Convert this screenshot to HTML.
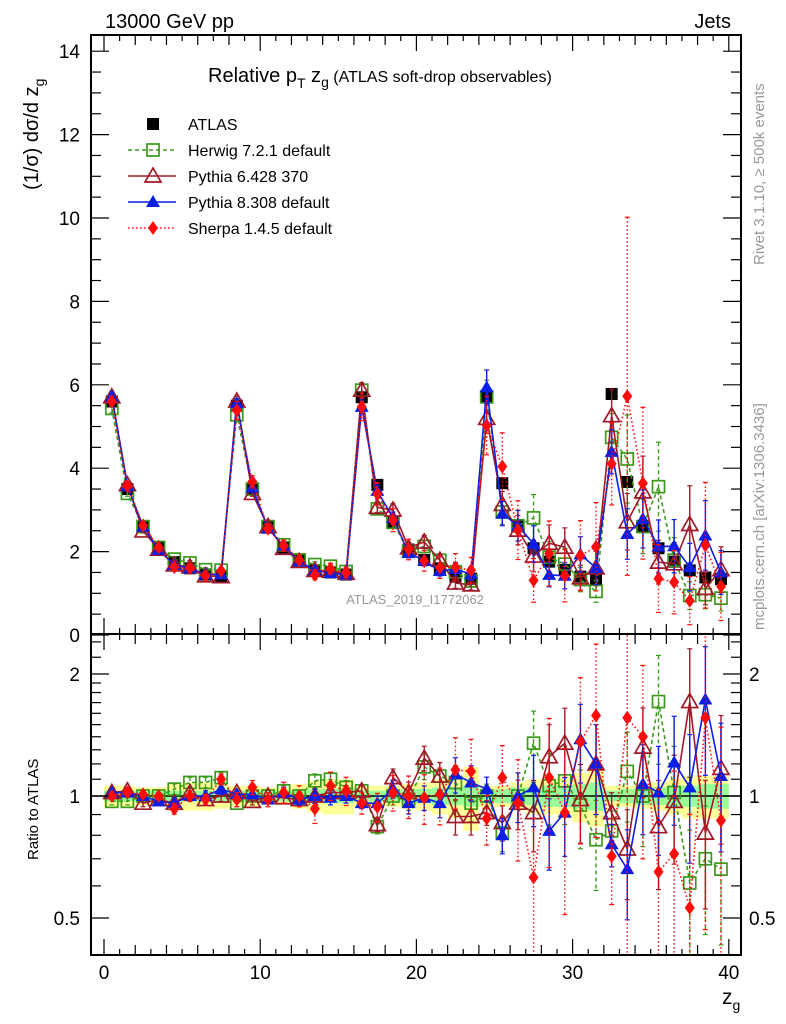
<!DOCTYPE html>
<html><head><meta charset="utf-8"><style>
html,body{margin:0;padding:0;background:#fff;}
svg{display:block;font-family:"Liberation Sans",sans-serif;}
</style></head><body>
<svg id="c" width="786" height="1024" viewBox="0 0 786 1024" xmlns="http://www.w3.org/2000/svg"></svg>
<script>
const binCenters=[0.5,1.5,2.5,3.5,4.5,5.5,6.5,7.5,8.5,9.5,10.5,11.5,12.5,13.5,14.5,15.5,16.5,17.5,18.5,19.5,20.5,21.5,22.5,23.5,24.5,25.5,26.5,27.5,28.5,29.5,30.5,31.5,32.5,33.5,34.5,35.5,36.5,37.5,38.5,39.5];
const atlas=[5.6,3.5,2.6,2.1,1.75,1.6,1.45,1.4,5.5,3.5,2.6,2.1,1.8,1.55,1.5,1.45,5.7,3.6,2.7,2.05,1.8,1.6,1.4,1.35,5.71,3.64,2.62,2.08,1.76,1.56,1.4,1.34,5.78,3.67,2.6,2.08,1.76,1.55,1.38,1.34];
const bandTot=[0.06,0.06,0.05,0.05,0.07,0.08,0.08,0.07,0.06,0.06,0.05,0.05,0.07,0.09,0.1,0.1,0.06,0.06,0.06,0.07,0.08,0.1,0.12,0.18,0.06,0.06,0.08,0.1,0.1,0.12,0.14,0.16,0.06,0.06,0.07,0.08,0.1,0.12,0.12,0.12];
const bandStat=[0.03,0.03,0.03,0.03,0.03,0.03,0.03,0.03,0.03,0.03,0.03,0.03,0.03,0.04,0.04,0.04,0.03,0.03,0.03,0.04,0.04,0.05,0.05,0.06,0.03,0.04,0.05,0.05,0.06,0.06,0.07,0.08,0.03,0.04,0.05,0.05,0.06,0.06,0.07,0.07];
const herwigRatio=[0.97,0.97,1.0,1.0,1.04,1.08,1.08,1.11,0.96,1.0,1.0,1.03,1.0,1.09,1.1,1.05,1.03,0.84,1.0,0.98,1.18,1.12,1.08,0.96,1.0,0.81,1.0,1.35,1.06,1.09,0.95,0.78,0.82,1.15,1.0,1.71,1.02,0.61,0.7,0.66];
const pythia6Ratio=[1.02,1.03,0.96,0.98,0.96,1.02,0.98,1.0,1.02,0.97,1.0,0.99,0.98,1.0,1.02,1.02,1.03,0.85,1.11,1.02,1.24,1.12,0.89,0.89,0.91,0.86,0.96,0.91,1.25,1.35,0.98,1.2,0.91,0.74,1.32,0.84,0.97,1.71,0.81,1.17];
const pythia8Ratio=[1.02,1.02,1.0,0.97,0.96,1.0,1.0,1.04,1.01,1.01,0.98,1.02,0.98,1.0,0.99,1.0,0.96,0.96,1.04,0.96,0.99,0.96,1.13,1.08,1.04,0.8,1.0,1.05,0.82,0.91,1.38,1.2,0.76,0.66,1.07,1.02,1.21,1.05,1.73,1.12];
const sherpaRatio=[1.0,1.02,1.01,1.0,0.93,1.0,0.98,1.1,0.98,1.05,0.98,1.02,1.0,0.93,1.06,1.03,0.96,0.94,1.02,1.0,0.99,1.01,1.16,1.15,0.88,1.11,0.96,0.63,1.11,0.91,1.36,1.58,0.71,1.56,1.4,0.65,0.72,0.53,1.56,0.87];
const modelErr=[0.02,0.02,0.02,0.02,0.03,0.03,0.03,0.03,0.02,0.02,0.02,0.03,0.03,0.04,0.04,0.04,0.03,0.04,0.05,0.06,0.07,0.08,0.1,0.1,0.07,0.1,0.14,0.2,0.2,0.22,0.22,0.25,0.12,0.25,0.25,0.3,0.3,0.35,0.35,0.35];
const sherpaErrScale=[1,1,1,1,1,1,1,1,2,2,2,2,2,2,2,2,2,2,2,2,2,2,2,2,2,2,2,2,2,2,2,2,2,3,2,2,2,2,2,2];
const mainTicks=[0,2,4,6,8,10,12,14];
const ratioTicks=[0.5,1,2];
const xTicks=[0,10,20,30,40];

const NS="http://www.w3.org/2000/svg";
const svg=document.getElementById('c');
const L=91,R=741,T=35,MB=634,RB=955;
const xs=v=>104+v*15.62;
const ym=v=>635-v*41.7;
const yr=v=>796-122*Math.log2(v);
function el(tag,attrs,parent){const e=document.createElementNS(NS,tag);for(const k in attrs)e.setAttribute(k,attrs[k]);(parent||svg).appendChild(e);return e;}
function txt(s,x,y,attrs,parent){const t=el('text',Object.assign({x:x,y:y},attrs),parent);t.textContent=s;return t;}

const defs=el('defs',{});
const cp1=el('clipPath',{id:'cm'},defs);el('rect',{x:L,y:T,width:R-L,height:MB-T},cp1);
const cp2=el('clipPath',{id:'cr'},defs);el('rect',{x:L,y:MB,width:R-L,height:RB-MB},cp2);

const gBand=el('g',{'clip-path':'url(#cr)'});


binCenters.forEach((c,i)=>{
  const r1=el('rect',{x:xs(c-0.5),width:15.62,y:yr(1+bandTot[i]),height:yr(1-bandTot[i])-yr(1+bandTot[i]),fill:'#ffff99'},gBand);
  
  
});
binCenters.forEach((c,i)=>{
  const r2=el('rect',{x:xs(c-0.5),width:15.62,y:yr(1+bandStat[i]),height:yr(1-bandStat[i])-yr(1+bandStat[i]),fill:'#99ff99'},gBand);
  
  
});
const l1=el('line',{x1:L,x2:R,y1:yr(1),y2:yr(1),stroke:'#000','stroke-width':1.5});



const models=[
 {name:'herwig',ratio:herwigRatio,color:'#3a9a1a',dash:'4,3',marker:'sq'},
 {name:'pythia6',ratio:pythia6Ratio,color:'#a01828',dash:'',marker:'tri'},
 {name:'pythia8',ratio:pythia8Ratio,color:'#0a1ee6',dash:'',marker:'ftri'},
 {name:'sherpa',ratio:sherpaRatio,color:'#ff0a0a',dash:'1.5,2.5',marker:'dia'}
];
function marker(m,x,y,color,g){
  if(m==='sq')return el('rect',{x:x-6,y:y-6,width:12,height:12,fill:'none',stroke:color,'stroke-width':1.7},g);
  if(m==='tri')return el('polygon',{points:`${x},${y-8} ${x-8},${y+6} ${x+8},${y+6}`,fill:'none',stroke:color,'stroke-width':1.7},g);
  if(m==='ftri')return el('polygon',{points:`${x},${y-7} ${x-7},${y+5} ${x+7},${y+5}`,fill:color},g);
  if(m==='dia')return el('polygon',{points:`${x},${y-7} ${x-5},${y} ${x},${y+7} ${x+5},${y}`,fill:color},g);
}
function drawSeries(mo,panel){
  const g=el('g',{'clip-path':panel==='main'?'url(#cm)':'url(#cr)'});
  
  
  const yf=panel==='main'?(i=>ym(atlas[i]*mo.ratio[i])):(i=>yr(mo.ratio[i]));
  const errScale=mo.name==='sherpa'?sherpaErrScale:binCenters.map(()=>1);
  binCenters.forEach((c,i)=>{
    const e=modelErr[i]*errScale[i];
    let y1,y2;
    if(panel==='main'){y1=ym(atlas[i]*mo.ratio[i]*(1+e));y2=ym(atlas[i]*mo.ratio[i]*Math.max(0.05,1-e));}
    else{y1=yr(mo.ratio[i]*(1+e));y2=yr(Math.max(0.3,mo.ratio[i]*(1-e)));}
    const eb=el('line',{x1:xs(c),x2:xs(c),y1:y1,y2:y2,stroke:mo.color,'stroke-width':1.4,'stroke-dasharray':mo.dash},g);
    
    
    [y1,y2].forEach(yy=>el('line',{x1:xs(c)-2.5,x2:xs(c)+2.5,y1:yy,y2:yy,stroke:mo.color,'stroke-width':1.2},g));
  });
  const pts=binCenters.map((c,i)=>xs(c)+','+yf(i)).join(' ');
  const pl=el('polyline',{points:pts,fill:'none',stroke:mo.color,'stroke-width':1.6,'stroke-dasharray':mo.dash},g);
  
  
  binCenters.forEach((c,i)=>{
    const mk=marker(mo.marker,xs(c),yf(i),mo.color,g);
    
    
  });
}
const ga=el('g',{'clip-path':'url(#cm)'});


binCenters.forEach((c,i)=>{
  const p=el('rect',{x:xs(c)-6,y:ym(atlas[i])-6,width:12,height:12,fill:'#000'},ga);
  
  
});
models.forEach(m=>drawSeries(m,'main'));
models.forEach(m=>drawSeries(m,'ratio'));

const f1=el('rect',{x:L,y:T,width:R-L,height:MB-T,fill:'none',stroke:'#000','stroke-width':2});


const f2=el('rect',{x:L,y:MB,width:R-L,height:RB-MB,fill:'none',stroke:'#000','stroke-width':2});



const gx=el('g',{stroke:'#000','stroke-width':1.2});


for(let v=0;v<=41;v++){
  const x=xs(v);if(x>R)break;
  const len=v%10===0?16:(v%2===0?10:6);
  [T,MB].forEach(y0=>el('line',{x1:x,x2:x,y1:y0,y2:y0+len},gx));
  [MB,RB].forEach(y0=>el('line',{x1:x,x2:x,y1:y0,y2:y0-len},gx));
}
xTicks.forEach(v=>{const t=txt(String(v),xs(v),979,{'font-size':19,'text-anchor':'middle'});
  
  });
const gy=el('g',{stroke:'#000','stroke-width':1.2});


for(let v=0;v<=14.3;v+=0.5){
  const y=ym(v),len=(v%2===0)?18:10;
  el('line',{x1:L,x2:L+len,y1:y,y2:y},gy);el('line',{x1:R,x2:R-len,y1:y,y2:y},gy);
}
mainTicks.forEach(v=>{const t=txt(String(v),80,ym(v)+7,{'font-size':19,'text-anchor':'end'});
  
  });
const rminor=[0.4,0.5,0.6,0.7,0.8,0.9,1,1.1,1.2,1.3,1.4,1.5,1.6,1.7,1.8,1.9,2,2.2,2.4];
rminor.forEach(v=>{const y=yr(v);if(y<MB||y>RB)return;
  const len=ratioTicks.includes(v)?18:10;
  el('line',{x1:L,x2:L+len,y1:y,y2:y},gy);el('line',{x1:R,x2:R-len,y1:y,y2:y},gy);});
ratioTicks.forEach(v=>{
  const s=String(v);
  const a=txt(s,80,yr(v)+7,{'font-size':19,'text-anchor':'end'});
  
  
  const b=txt(s,749,yr(v)+7,{'font-size':19,'text-anchor':'start'});
  
  
});

let t;
t=txt('13000 GeV pp',105,28,{'font-size':20});
t=txt('Jets',731,28,{'font-size':20,'text-anchor':'end'});
t=el('text',{x:208,y:82,'font-size':20});
t.innerHTML='Relative p<tspan font-size="14" dy="6">T</tspan><tspan dy="-6"> z</tspan><tspan font-size="14" dy="5">g</tspan><tspan dy="-5" font-size="16"> (ATLAS soft-drop observables)</tspan>';
t=el('text',{transform:'translate(38,190) rotate(-90)','font-size':20});
t.innerHTML='(1/σ) dσ/d z<tspan font-size="14" dy="6">g</tspan>';
t=txt('Ratio to ATLAS',38,860,{'font-size':15,transform:'rotate(-90 38 860)'});
t=el('text',{x:722,y:1004,'font-size':21});
t.innerHTML='z<tspan font-size="14" dy="6">g</tspan>';
t=txt('Rivet 3.1.10, ≥ 500k events',764,265,{'font-size':15,fill:'#999',transform:'rotate(-90 764 265)'});
t=txt('mcplots.cern.ch [arXiv:1306.3436]',764,630,{'font-size':15,fill:'#999',transform:'rotate(-90 764 630)'});
t=txt('ATLAS_2019_I1772062',415,604,{'font-size':13,fill:'#999','text-anchor':'middle'});

const legNames=['ATLAS','Herwig 7.2.1 default','Pythia 6.428 370','Pythia 8.308 default','Sherpa 1.4.5 default'];
const lg=el('g',{});
legNames.forEach((n,i)=>{
  const y=124+i*26;
  const e=el('g',{},lg);
  
  
  if(i===0){el('rect',{x:147,y:y-6,width:12,height:12,fill:'#000'},e);}
  else{const mo=models[i-1];
    el('line',{x1:128,x2:176,y1:y,y2:y,stroke:mo.color,'stroke-width':1.4,'stroke-dasharray':mo.dash},e);
    marker(mo.marker,153,y,mo.color,e);}
  txt(n,188,y+6,{'font-size':16},e);
});
</script>
</body></html>
